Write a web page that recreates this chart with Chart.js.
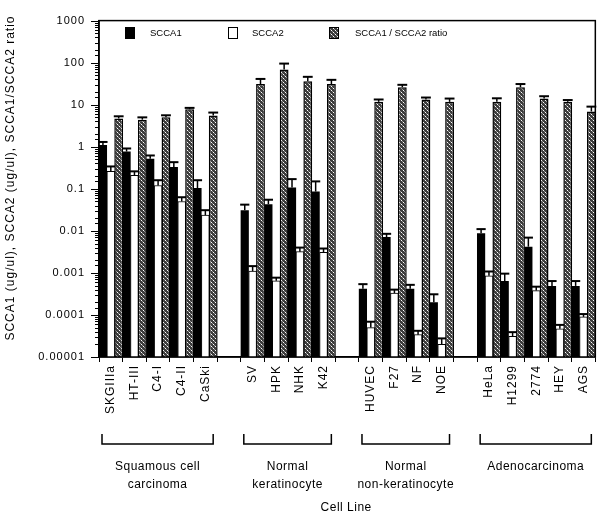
<!DOCTYPE html>
<html>
<head>
<meta charset="utf-8">
<script src="https://cdn.jsdelivr.net/npm/chart.js@4.4.1/dist/chart.umd.min.js"></script>
<style>
  html, body { margin: 0; padding: 0; background: #fff; }
</style>
</head>
<body>
<canvas id="c" width="601" height="518"></canvas>
<script>
// cell lines, '' = spacer between groups
const cellLines = ['SKGIIIa', 'HT-III', 'C4-I', 'C4-II', 'CaSki', '',
  'SV', 'HPK', 'NHK', 'K42', '',
  'HUVEC', 'F27', 'NF', 'NOE', '',
  'HeLa', 'H1299', '2774', 'HEY', 'AGS'];

const scca1 = [1.1, 0.77, 0.52, 0.33, 0.104, null,
  0.031, 0.043, 0.107, 0.086, null,
  0.00042, 0.0071, 0.00042, 0.0002, null,
  0.0088, 0.00064, 0.0042, 0.00049, 0.00049];
const scca1Err = [1.3, 0.91, 0.62, 0.43, 0.16, null,
  0.042, 0.055, 0.17, 0.15, null,
  0.00054, 0.0085, 0.00052, 0.00031, null,
  0.011, 0.00096, 0.0069, 0.00064, 0.00064];

const scca2 = [0.26, 0.21, 0.12, 0.05, 0.0236, null,
  0.0011, 0.00065, 0.0032, 0.0031, null,
  0.00005, 0.00033, 0.000034, 0.00002, null,
  0.00085, 0.000031, 0.00038, 0.000047, 0.00009];
const scca2Err = [0.34, 0.26, 0.16, 0.063, 0.031, null,
  0.00145, 0.00077, 0.004, 0.0038, null,
  0.000069, 0.0004, 0.000042, 0.0000277, null,
  0.00108, 0.000039, 0.00047, 0.000058, 0.000105];

const ratio = [4.7, 4.4, 5.0, 7.8, 5.5, null,
  31, 69, 36, 31, null,
  11.7, 26, 13.3, 11.7, null,
  11.7, 26, 14, 11.7, 6.9];
const ratioErr = [5.3, 5.0, 5.6, 8.4, 6.5, null,
  41, 95, 46, 39, null,
  13.3, 29.7, 14.8, 14, null,
  14.2, 31, 15.9, 12.9, 9];

const groups = [
  { lines: ['Squamous cell', 'carcinoma'], first: 0, last: 4 },
  { lines: ['Normal', 'keratinocyte'], first: 6, last: 9 },
  { lines: ['Normal', 'non-keratinocyte'], first: 11, last: 14 },
  { lines: ['Adenocarcinoma'], first: 16, last: 20 }
];

const yTitle = 'SCCA1 (ug/ul), SCCA2 (ug/ul), SCCA1/SCCA2 ratio';
const xTitle = 'Cell Line';
const FONT = "'Liberation Sans', Arial, Helvetica, sans-serif";

const canvas = document.getElementById('c');
const ctx = canvas.getContext('2d');

// speckled fill used for the ratio bars
function makeSpeckle() {
  const p = document.createElement('canvas');
  p.width = 4; p.height = 4;
  const g = p.getContext('2d');
  g.fillStyle = '#3c3c3c';
  g.fillRect(0, 0, 4, 4);
  g.fillStyle = '#ffffff';
  g.fillRect(1, 0, 1, 1);
  g.fillRect(3, 2, 1, 1);
  g.fillStyle = '#9a9a9a';
  g.fillRect(2, 1, 1, 1);
  g.fillRect(0, 3, 1, 1);
  return ctx.createPattern(p, 'repeat');
}
const speckle = makeSpeckle();

const errors = [scca1Err, scca2Err, ratioErr];

function isDecade(v) {
  const e = Math.log10(v);
  return Math.abs(e - Math.round(e)) < 1e-6;
}
function decadeLabel(v) {
  const e = Math.round(Math.log10(v));
  return e >= 0 ? String(Math.pow(10, e)) : Math.pow(10, e).toFixed(-e);
}

// scanned figure has loose letter spacing on the axis text
const spacing = {
  id: 'spacing',
  beforeDraw(chart) { chart.ctx.letterSpacing = '1px'; }
};

const errorBars = {
  id: 'errorBars',
  afterDatasetsDraw(chart) {
    const c = chart.ctx;
    const y = chart.scales.y;
    c.save();
    c.strokeStyle = '#000';
    chart.data.datasets.forEach((ds, i) => {
      const meta = chart.getDatasetMeta(i);
      meta.data.forEach((el, j) => {
        const top = errors[i][j];
        if (top == null || ds.data[j] == null) return;
        const yt = y.getPixelForValue(top);
        c.lineWidth = 1.5;
        c.beginPath();
        c.moveTo(el.x, el.y);
        c.lineTo(el.x, yt);
        c.stroke();
        c.lineWidth = 2;
        c.beginPath();
        c.moveTo(el.x - el.width / 2 - 0.5, yt);
        c.lineTo(el.x + el.width / 2 + 0.5, yt);
        c.stroke();
      });
    });
    c.restore();
  }
};

const decorations = {
  id: 'decorations',
  afterDraw(chart) {
    const c = chart.ctx;
    const a = chart.chartArea;
    const xs = chart.scales.x;
    const ys = chart.scales.y;
    c.save();

    // frame
    c.strokeStyle = '#000';
    c.lineWidth = 1.5;
    c.strokeRect(a.left, a.top, a.right - a.left, a.bottom - a.top);

    // y tick marks, long at decades
    c.lineWidth = 1;
    ys.ticks.forEach(t => {
      const py = Math.round(ys.getPixelForValue(t.value)) + 0.5;
      const len = isDecade(t.value) ? 8 : 4;
      c.beginPath();
      c.moveTo(a.left - len, py);
      c.lineTo(a.left, py);
      c.stroke();
    });

    // legend
    c.letterSpacing = '0px';
    c.font = '9.5px ' + FONT;
    c.textBaseline = 'middle';
    c.fillStyle = '#000';
    const ly = 33;
    c.fillRect(125, ly - 6, 10, 12);
    c.fillText('SCCA1', 150, ly);
    c.fillStyle = '#fff';
    c.fillRect(228, ly - 6, 10, 12);
    c.lineWidth = 1;
    c.strokeRect(228.5, ly - 5.5, 9, 11);
    c.fillStyle = '#000';
    c.fillText('SCCA2', 252, ly);
    c.fillStyle = speckle;
    c.fillRect(329, ly - 6, 10, 12);
    c.strokeStyle = '#000';
    c.strokeRect(329.5, ly - 5.5, 9, 11);
    c.fillStyle = '#000';
    c.fillText('SCCA1 / SCCA2 ratio', 355, ly);

    // group brackets and names
    const half = (xs.getPixelForValue(1) - xs.getPixelForValue(0)) / 2;
    c.lineWidth = 1.5;
    c.font = '12px ' + FONT;
    c.letterSpacing = '0.5px';
    c.textAlign = 'center';
    c.textBaseline = 'middle';
    groups.forEach(g => {
      const x0 = xs.getPixelForValue(g.first) - half + 3;
      const x1 = xs.getPixelForValue(g.last) + half - 4;
      c.beginPath();
      c.moveTo(x0, 434);
      c.lineTo(x0, 444);
      c.lineTo(x1, 444);
      c.lineTo(x1, 434);
      c.stroke();
      const cx = (x0 + x1) / 2;
      g.lines.forEach((s, k) => c.fillText(s, cx, 467 + k * 18));
    });

    // axis titles
    c.fillText(xTitle, (a.left + a.right) / 2 - 1, 508);
    c.letterSpacing = '1px';
    c.translate(11, 178);
    c.rotate(-Math.PI / 2);
    c.fillText(yTitle, 0, 0);
    c.restore();
  }
};

new Chart(canvas, {
  type: 'bar',
  data: {
    labels: cellLines,
    datasets: [
      {
        label: 'SCCA1',
        data: scca1,
        backgroundColor: '#000',
        borderWidth: 0,
        barPercentage: 1.04
      },
      {
        label: 'SCCA2',
        data: scca2,
        backgroundColor: '#fff',
        borderColor: '#000',
        borderWidth: 1,
        barPercentage: 1
      },
      {
        label: 'SCCA1/SCCA2 ratio',
        data: ratio,
        backgroundColor: speckle,
        borderColor: '#000',
        borderWidth: 1.5,
        barPercentage: 1.12
      }
    ]
  },
  options: {
    responsive: false,
    devicePixelRatio: 1,
    animation: false,
    categoryPercentage: 1,
    layout: { padding: { top: 12, right: 4, left: 0, bottom: 0 } },
    plugins: {
      legend: { display: false },
      tooltip: { enabled: false }
    },
    scales: {
      x: {
        grid: { offset: true, drawOnChartArea: false, tickLength: 5, color: '#000', lineWidth: 1 },
        border: { display: true, color: '#000', width: 1.5 },
        ticks: {
          autoSkip: false,
          maxRotation: 90,
          minRotation: 90,
          padding: 3,
          color: '#000',
          font: { family: FONT, size: 12 }
        },
        afterFit(s) { s.height = 161; }
      },
      y: {
        type: 'logarithmic',
        min: 0.00001,
        max: 1000,
        grid: { drawOnChartArea: false, drawTicks: false },
        border: { display: true, color: '#000', width: 1.5 },
        ticks: {
          autoSkip: false,
          padding: 14,
          color: '#000',
          font: { family: FONT, size: 11 },
          callback: v => isDecade(v) ? decadeLabel(v) : ''
        },
        afterFit(s) { s.width = 99; }
      }
    }
  },
  plugins: [spacing, errorBars, decorations]
});
</script>
</body>
</html>
